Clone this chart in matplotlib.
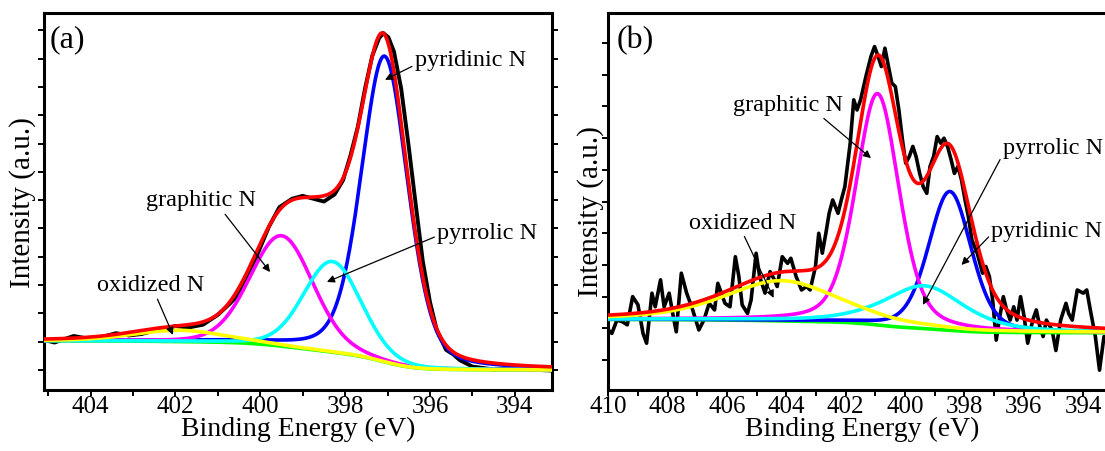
import numpy as np
import matplotlib
matplotlib.use('Agg')
import matplotlib.pyplot as plt
from matplotlib.ticker import MultipleLocator, NullFormatter

plt.rcParams['font.family'] = ['Liberation Serif', 'DejaVu Serif']

# ---------------- panel (a) : measured spectrum ----------------
a_energy = [405.1, 404.85, 404.7, 404.4, 404.1, 403.8, 403.4, 403.1, 402.8, 402.45,
            402.0, 401.7, 401.35, 401.0, 400.75, 400.55, 400.3, 400.05, 399.8, 399.55,
            399.25, 399.0, 398.75, 398.5, 398.25, 398.05, 397.87, 397.7, 397.53, 397.36,
            397.2, 397.1, 396.98, 396.85, 396.68, 396.51, 396.34, 396.17, 396.0, 395.84,
            395.62, 395.45, 395.3, 395.0, 394.5, 394.0, 393.8, 393.1]
a_intensity = [1.06, 0.97, 1.05, 1.20, 1.12, 1.14, 1.30, 1.22, 1.27, 1.41,
               1.55, 1.50, 1.60, 1.95, 2.30, 2.60, 3.30, 4.15, 5.05, 5.75,
               6.05, 6.15, 6.05, 5.95, 6.20, 6.70, 7.60, 8.60, 9.95, 11.10,
               11.72, 11.90, 11.75, 11.25, 9.95, 8.00, 5.90, 3.85, 2.40, 1.41,
               0.71, 0.55, 0.35, 0.12, 0.02, 0.07, 0.02, -0.02]

# fitted components: pyridinic, pyrrolic, graphitic, oxidized
comp_names = ['pyridinic N', 'pyrrolic N', 'graphitic N', 'oxidized N']
comp_colors = ['#0000FF', '#00FFFF', '#FF00FF', '#FFFF00']
a_centers = [397.07, 398.30, 399.50, 401.90]
a_fwhm = [1.30, 1.60, 1.75, 2.60]
a_heights = [10.80, 3.20, 3.90, 0.40]
a_lorentz = [0.30, 0.15, 0.15, 0.30]
a_bg_high, a_bg_low = 1.03, 0.0

# ---------------- panel (b) : measured spectrum ----------------
b_energy = [410.00, 409.88, 409.71, 409.53, 409.36, 409.18, 409.00, 408.83, 408.71, 408.53,
            408.42, 408.24, 408.12, 407.95, 407.83, 407.71, 407.54, 407.36, 407.19, 406.95,
            406.78, 406.60, 406.42, 406.31, 406.19, 406.07, 405.90, 405.72, 405.60, 405.49,
            405.31, 405.19, 405.02, 404.90, 404.72, 404.55, 404.43, 404.31, 404.14, 403.96,
            403.85, 403.67, 403.49, 403.32, 403.20, 403.02, 402.91, 402.79, 402.67, 402.56,
            402.44, 402.26, 402.15, 402.03, 401.85, 401.73, 401.62, 401.50, 401.32, 401.15,
            401.03, 400.91, 400.80, 400.68, 400.56, 400.45, 400.33, 400.21, 400.09, 399.98,
            399.86, 399.74, 399.63, 399.51, 399.39, 399.27, 399.16, 399.04, 398.92, 398.80,
            398.69, 398.57, 398.45, 398.34, 398.22, 398.10, 397.98, 397.87, 397.75, 397.57,
            397.39, 397.28, 397.16, 397.05, 396.93, 396.81, 396.69, 396.58, 396.46, 396.34,
            396.23, 396.11, 395.99, 395.87, 395.70, 395.58, 395.46, 395.35, 395.24, 395.05,
            394.92, 394.76, 394.58, 394.49, 394.37, 394.20, 394.00, 393.88, 393.76, 393.59,
            393.45, 393.30, 393.10]
b_intensity = [0.95, 0.84, 1.26, 1.21, 1.11, 2.00, 1.74, 0.84, 0.53, 2.11,
               1.68, 2.53, 1.68, 2.11, 1.47, 0.89, 2.74, 2.11, 1.68, 0.95,
               1.26, 1.79, 1.58, 2.42, 2.11, 1.79, 1.68, 3.26, 2.63, 1.74,
               1.47, 1.89, 3.37, 2.63, 2.11, 2.79, 2.58, 2.32, 3.26, 3.05,
               3.21, 2.63, 2.21, 2.32, 2.21, 2.95, 4.00, 3.37, 4.00, 4.63,
               5.05, 4.63, 5.05, 5.47, 6.84, 8.21, 7.89, 8.21, 8.95, 9.58,
               9.89, 9.58, 9.26, 9.84, 9.26, 8.74, 8.63, 7.89, 6.95, 6.21,
               6.42, 6.74, 6.42, 5.89, 5.47, 5.26, 6.11, 6.42, 7.05, 6.84,
               7.00, 6.74, 6.32, 5.89, 6.11, 5.68, 5.05, 4.53, 3.79, 3.37,
               2.74, 2.95, 2.63, 1.89, 0.63, 1.37, 2.00, 1.58, 1.26, 1.68,
               1.26, 2.00, 1.37, 0.53, 1.26, 1.58, 1.05, 0.74, 1.26, 0.95,
               0.30, 1.26, 1.79, 1.47, 1.26, 2.21, 2.11, 2.21, 1.58, 0.74,
               -0.32, 0.74, 0.40]

b_centers = [398.49, 399.35, 400.93, 404.15]
b_fwhm = [1.70, 3.20, 1.72, 4.60]
b_heights = [4.38, 1.35, 7.30, 1.27]
b_lorentz = [0.30, 0.55, 0.35, 0.50]
b_bg_high, b_bg_low = 1.28, 0.86

x_ticks_a = [404, 402, 400, 398, 396, 394]
x_ticks_b = [410, 408, 406, 404, 402, 400, 398, 396, 394]


def pseudo_voigt(x, c, w, h, m):
    d = (x - c) / w
    return h * ((1 - m) * np.exp(-4 * np.log(2) * d ** 2) + m / (1 + 4 * d ** 2))


def shirley(x_asc, peaks, lo, hi):
    cum = np.concatenate([[0], np.cumsum(0.5 * (peaks[1:] + peaks[:-1]) * np.diff(x_asc))])
    return lo + (hi - lo) * cum / cum[-1]


def draw(ax, energy, intens, centers, fwhm, heights, lorentz, lo, hi, xlim, ylim,
         data_lw, ticks):
    x = np.linspace(min(xlim), max(xlim), 1500)
    comps = [pseudo_voigt(x, c, w, h, m) for c, w, h, m in zip(centers, fwhm, heights, lorentz)]
    total = np.sum(comps, axis=0)
    bg = shirley(x, total, lo, hi)
    ax.plot(energy, intens, color='black', lw=data_lw, solid_joinstyle='round', zorder=2)
    ax.plot(x, bg, color='#00FF00', lw=2.6, zorder=3)
    order = [0, 2, 1, 3]  # blue, magenta, cyan, yellow
    for k, i in enumerate(order):
        ax.plot(x, bg + comps[i], color=comp_colors[i], lw=2.6, zorder=4 + k * 0.1)
    ax.plot(x, bg + total, color='#FF0000', lw=2.6, zorder=6)
    ax.set_xlim(*xlim)
    ax.set_ylim(*ylim)
    ax.xaxis.set_minor_locator(MultipleLocator(1))
    ax.set_xticks(ticks)
    ax.yaxis.set_major_locator(MultipleLocator(1))
    ax.yaxis.set_major_formatter(NullFormatter())
    ax.tick_params(axis='x', which='both', direction='out', length=4.5, width=1.4,
                   labelsize=18, pad=0, top=False)
    ax.tick_params(axis='y', which='both', direction='out', length=4, width=1.4,
                   left=True, right=True, labelleft=False)
    for s in ax.spines.values():
        s.set_linewidth(2.2)
    ax.set_xlabel('Binding Energy (eV)', fontsize=20)
    ax.set_ylabel('Intensity (a.u.)', fontsize=21)


fig = plt.figure(figsize=(11.05, 4.51), dpi=100)
ax_a = fig.add_axes([44 / 1105, 61 / 451, 507.7 / 1105, 377 / 451])
ax_b = fig.add_axes([608.3 / 1105, 61 / 451, 502.2 / 1105, 377 / 451])

draw(ax_a, a_energy, a_intensity, a_centers, a_fwhm, a_heights, a_lorentz,
     a_bg_low, a_bg_high, (405.1, 393.13), (-0.707, 12.61), 2.8, x_ticks_a)
draw(ax_b, b_energy, b_intensity, b_centers, b_fwhm, b_heights, b_lorentz,
     b_bg_low, b_bg_high, (410.0, 393.08), (-0.946, 10.95), 2.6, x_ticks_b)

ax_a.xaxis.set_label_coords(0.5, -0.072)
ax_b.xaxis.set_label_coords(0.505, -0.072)
ax_a.yaxis.set_label_coords(-0.015, 0.496)
ax_b.yaxis.set_label_coords(-0.008, 0.472)

ax_a.text(0.047, 0.928, '(a)', transform=ax_a.transAxes, fontsize=23, ha='center', va='center')
ax_b.text(0.053, 0.928, '(b)', transform=ax_b.transAxes, fontsize=23, ha='center', va='center')


def note(ax, text, xytext, xy, relpos):
    ax.annotate(text, xy=xy, xytext=xytext, ha='center', va='center', fontsize=17.5,
                zorder=10,
                arrowprops=dict(arrowstyle='-|>', color='black', lw=0.9, shrinkA=0,
                                shrinkB=0, relpos=relpos, mutation_scale=11))


note(ax_a, 'pyridinic N', (395.05, 10.92), (397.06, 10.25), (0.0, 0.3))
note(ax_a, 'graphitic N', (401.4, 5.97), (399.77, 3.46), (0.7, 0.0))
note(ax_a, 'pyrrolic N', (394.65, 4.81), (398.43, 3.11), (0.0, 0.4))
note(ax_a, 'oxidized N', (402.58, 2.97), (402.06, 1.24), (0.55, 0.0))

note(ax_b, 'graphitic N', (403.96, 8.04), (401.15, 6.37), (0.8, 0.0))
note(ax_b, 'oxidized N', (405.46, 4.32), (404.43, 1.96), (0.5, 0.0))
note(ax_b, 'pyrrolic N', (395.02, 6.69), (399.4, 1.74), (0.0, 0.2))
note(ax_b, 'pyridinic N', (395.22, 4.04), (398.1, 3.0), (0.0, 0.4))

fig.savefig('out.png', dpi=100)
